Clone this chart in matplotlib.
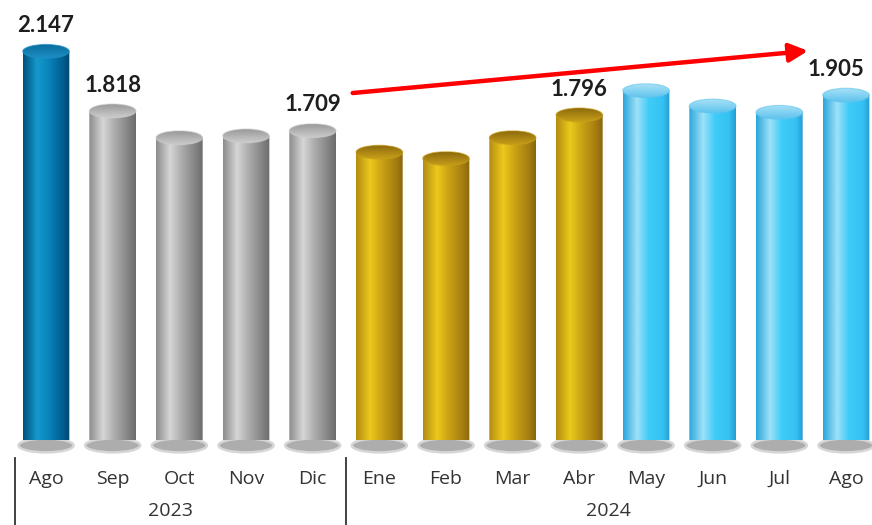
import numpy as np
import matplotlib
matplotlib.use('Agg')
import matplotlib.pyplot as plt
from matplotlib.colors import LinearSegmentedColormap
from matplotlib.patches import Ellipse, PathPatch
from matplotlib.path import Path

# Data
months = ['Ago', 'Sep', 'Oct', 'Nov', 'Dic', 'Ene', 'Feb', 'Mar', 'Abr', 'May', 'Jun', 'Jul', 'Ago']
values = [2.147, 1.818, 1.67, 1.68, 1.709, 1.59, 1.555, 1.67, 1.796, 1.93, 1.845, 1.81, 1.905]
show_label = [True, True, False, False, True, False, False, False, True, False, False, False, True]
groups = ['azul', 'gris', 'gris', 'gris', 'gris', 'oro', 'oro', 'oro', 'oro',
          'celeste', 'celeste', 'celeste', 'celeste']
years = ['2023', '2024']
year_pos = [1.86, 8.43]
separators = [-0.465, 4.5]

# Colour sets: body gradient (left -> right), cap top, cap bottom
palette = {
    'azul':    (['#00507c', '#1499cc', '#0a84bb', '#005d90', '#00466e'], '#0c6c9e', '#1c8fc4'),
    'gris':    (['#8c8c8c', '#d6d6d6', '#ababab', '#818181', '#6c6c6c'], '#9a9a9a', '#cdcdcd'),
    'oro':     (['#b38b12', '#ebc91c', '#c9a214', '#a57d10', '#8a660c'], '#8c6a0c', '#c9a01a'),
    'celeste': (['#29a6dc', '#9fe1f8', '#40ccf8', '#35c2f2', '#249cd4'], '#a8e0f6', '#5ec4ee'),
}
stops = [0.0, 0.3, 0.55, 0.85, 1.0]

fig = plt.figure(figsize=(8.72, 5.25), dpi=100)
ax = fig.add_axes([0, 85 / 525, 1, 440 / 525])
ax.axis('off')

w = 0.7
cap_h = 0.077
grad_h = np.linspace(0, 1, 256).reshape(1, -1)
grad_v = np.linspace(0, 1, 64).reshape(-1, 1)

for i, (v, g) in enumerate(zip(values, groups)):
    body_cols, cap_top, cap_bot = palette[g]
    cmap = LinearSegmentedColormap.from_list(g, list(zip(stops, body_cols)))
    cap_cmap = LinearSegmentedColormap.from_list(g + '_cap', [cap_top, cap_bot])

    # base disc
    ax.add_patch(Ellipse((i, -0.03), w * 1.18, cap_h * 1.0, facecolor='#adadad',
                         edgecolor='#d6d6d6', lw=1.8, zorder=1, clip_on=False))

    # body: rectangle with rounded bottom
    t = np.linspace(np.pi, 2 * np.pi, 40)
    arc = np.column_stack([i + w / 2 * np.cos(t), cap_h / 2 * np.sin(t)])
    verts = np.vstack([[i - w / 2, v], arc, [i + w / 2, v], [i - w / 2, v]])
    body = PathPatch(Path(verts, closed=True), facecolor='none', edgecolor='none',
                     transform=ax.transData)
    ax.add_patch(body)
    im = ax.imshow(grad_h, extent=[i - w / 2, i + w / 2, -cap_h / 2, v], cmap=cmap,
                   aspect='auto', zorder=2)
    im.set_clip_path(body)

    # top cap
    cap = Ellipse((i, v), w, cap_h, facecolor='none', edgecolor='none',
                  transform=ax.transData)
    ax.add_patch(cap)
    imc = ax.imshow(grad_v, extent=[i - w / 2, i + w / 2, v - cap_h / 2, v + cap_h / 2],
                    cmap=cap_cmap, aspect='auto', origin='upper', zorder=3)
    imc.set_clip_path(cap)
    ax.add_patch(Ellipse((i, v), w, cap_h, facecolor='none', edgecolor=cap_bot,
                         lw=0.8, alpha=0.6, zorder=4))

    if show_label[i]:
        dx = -7 if i == len(values) - 1 else 0
        ax.annotate(f'{v:.3f}', (i, v), xytext=(dx, 11), textcoords='offset points',
                    ha='center', va='bottom', fontsize=16, fontweight='bold',
                    family='Lato', color='#1e1e1e', zorder=5)

ax.set_xlim(-0.69, 12.39)
ax.set_ylim(0, 440 / 181)

# month and year labels
for i, m in enumerate(months):
    ax.text(i, -0.215, m, ha='center', va='center', fontsize=14,
            family='Open Sans', color='#333333')
for y, xp in zip(years, year_pos):
    ax.text(xp, -0.395, y, ha='center', va='center', fontsize=14,
            family='Open Sans', color='#333333')
for s in separators:
    ax.plot([s, s], [-0.1, -0.47], color='#333333', lw=1.3, clip_on=False)

# red trend arrow
ax.annotate('', xy=(11.43, 2.15), xytext=(4.6, 1.917),
            arrowprops=dict(arrowstyle='-|>', color='#ff0000', lw=3.2,
                            mutation_scale=28, shrinkA=0, shrinkB=0), zorder=6)

fig.savefig('out.png', dpi=100)
